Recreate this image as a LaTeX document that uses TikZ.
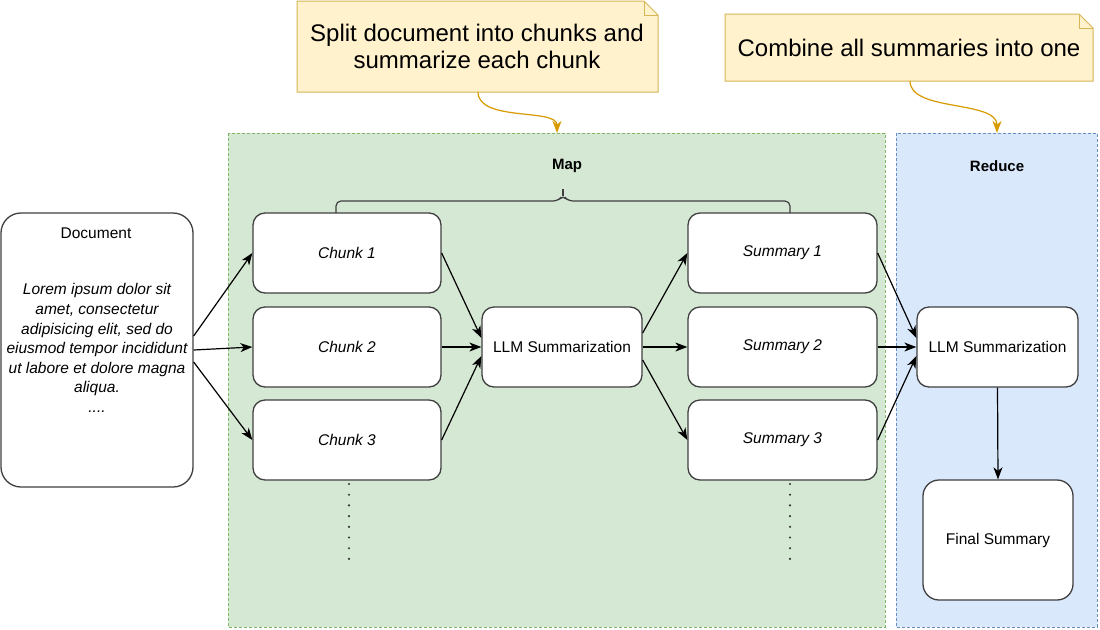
\documentclass[tikz,border=0pt]{standalone}
\usepackage{fontspec}
\setmainfont{Liberation Sans}
\usetikzlibrary{arrows.meta,calc}
\definecolor{notefill}{HTML}{FFF2CC}
\definecolor{notedraw}{HTML}{D6B656}
\definecolor{orangearrow}{HTML}{D79B00}
\definecolor{greenfill}{HTML}{D5E8D4}
\definecolor{greendraw}{HTML}{82B366}
\definecolor{bluefill}{HTML}{DAE8FC}
\definecolor{bluedraw}{HTML}{6C8EBF}
\definecolor{boxdraw}{HTML}{404040}
\tikzset{
  boxtext/.style={font=\fontsize{15.5}{19.6}\selectfont},
  procbox/.style={draw=boxdraw, line width=1.3pt, rounded corners=12pt, fill=white,
    align=center, inner sep=0pt, boxtext},
  flow/.style={draw=black, line width=1.2pt, -{Stealth[length=12pt,width=9pt,inset=3.5pt]}},
  notearrow/.style={draw=orangearrow, line width=1.2pt, -{Stealth[length=12pt,width=9pt,inset=3.5pt]}},
  notetext/.style={font=\fontsize{24}{27}\selectfont, align=center, inner sep=0pt},
  region/.style={line width=1pt, dash pattern=on 3pt off 2pt},
  dotline/.style={draw=black!80, line width=2.4pt, line cap=round, dash pattern=on 0pt off 10.7pt},
}
\begin{document}
\begin{tikzpicture}[x=1pt,y=-1pt]
\useasboundingbox (0,0) rectangle (1100,629);
\fill[white] (0,0) rectangle (1100,629);

% regions
\draw[region, fill=greenfill, draw=greendraw] (228,133) rectangle (885,627);
\draw[region, fill=bluefill, draw=bluedraw] (896,133) rectangle (1097,627);
\node[font=\fontsize{15}{18}\selectfont\bfseries] (maplbl) at (567,166) {Map};
\node[font=\fontsize{15}{18}\selectfont\bfseries] (redlbl) at (997,166) {Reduce};

% notes
\draw[fill=notefill, draw=notedraw, line width=1pt]
  (297,1) -- (644,1) -- (658,15) -- (658,92) -- (297,92) -- cycle;
\draw[draw=notedraw, line width=1pt] (644,1) -- (644,15) -- (658,15);
\node[notetext] (note1) at (477,46) {Split document into chunks and\\summarize each chunk};
\coordinate (n1out) at (478,92);
\coordinate (n1in) at (557,133);

\draw[fill=notefill, draw=notedraw, line width=1pt]
  (725,14) -- (1079,14) -- (1093,28) -- (1093,81) -- (725,81) -- cycle;
\draw[draw=notedraw, line width=1pt] (1079,14) -- (1079,28) -- (1093,28);
\node[notetext] (note2) at (909,48) {Combine all summaries into one};
\coordinate (n2out) at (910,81);
\coordinate (n2in) at (997,133);

\draw[notearrow] (n1out) .. controls (478,122) and (557,108) .. (n1in);
\draw[notearrow] (n2out) .. controls (910,112) and (997,100) .. (n2in);

% document
\node[procbox, rounded corners=20pt, minimum width=192pt, minimum height=274pt] (doc) at (97,350) {};
\node[boxtext] (doctitle) at (96,233) {Document};
\node[boxtext, align=center, font=\fontsize{15.5}{19.6}\selectfont\itshape] (lorem) at (97,348)
  {Lorem ipsum dolor sit\\amet, consectetur\\adipisicing elit, sed do\\eiusmod tempor incididunt\\ut labore et dolore magna\\aliqua.\\....};

% chunks
\node[procbox, minimum width=188pt, minimum height=80pt, font=\fontsize{15.5}{19.6}\selectfont\itshape] (c1) at (347,253) {Chunk 1};
\node[procbox, minimum width=188pt, minimum height=80pt, font=\fontsize{15.5}{19.6}\selectfont\itshape] (c2) at (347,347) {Chunk 2};
\node[procbox, minimum width=188pt, minimum height=80pt, font=\fontsize{15.5}{19.6}\selectfont\itshape] (c3) at (347,440) {Chunk 3};

% map LLM
\node[procbox, minimum width=160pt, minimum height=80pt] (llm1) at (562,347) {LLM Summarization};

% summaries
\node[procbox, minimum width=189pt, minimum height=80pt, font=\fontsize{15.5}{19.6}\selectfont\itshape] (s1) at (782.5,253) {Summary 1};
\node[procbox, minimum width=189pt, minimum height=80pt, font=\fontsize{15.5}{19.6}\selectfont\itshape] (s2) at (782.5,347) {Summary 2};
\node[procbox, minimum width=189pt, minimum height=80pt, font=\fontsize{15.5}{19.6}\selectfont\itshape] (s3) at (782.5,440) {Summary 3};

% reduce
\node[procbox, minimum width=161pt, minimum height=80pt] (llm2) at (997.5,347) {LLM Summarization};
\node[procbox, rounded corners=16pt, minimum width=150pt, minimum height=120pt] (final) at (998,540) {Final Summary};

% brace
\coordinate (brL) at (336,213);
\coordinate (brR) at (790,213);
\draw[draw=boxdraw, line width=1.2pt, rounded corners=5pt]
  (brL) -- (336,201) -- (558,201) -- (563,195) -- (568,201) -- (790,201) -- (brR);
\draw[draw=boxdraw, line width=1.2pt] (563,196) -- (563,189);

% dots
\coordinate (d1a) at (349,484); \coordinate (d1b) at (349,560);
\coordinate (d2a) at (790,484); \coordinate (d2b) at (790,560);
\draw[dotline] (d1a) -- (d1b);
\draw[dotline] (d2a) -- (d2b);

% flows
\draw[flow] ([yshift=14pt]doc.east) -- (c1.west);
\draw[flow] (doc.east) -- (c2.west);
\draw[flow] ([yshift=-12pt]doc.east) -- (c3.west);

\draw[flow] (c1.east) -- ([yshift=9pt]llm1.west);
\draw[flow] (c2.east) -- (llm1.west);
\draw[flow] (c3.east) -- ([yshift=-9pt]llm1.west);

\draw[flow] ([yshift=14pt]llm1.east) -- (s1.west);
\draw[flow] (llm1.east) -- (s2.west);
\draw[flow] ([yshift=-13pt]llm1.east) -- (s3.west);

\draw[flow] (s1.east) -- ([yshift=9pt]llm2.west);
\draw[flow] (s2.east) -- (llm2.west);
\draw[flow] (s3.east) -- ([yshift=-9pt]llm2.west);

\draw[flow] (llm2.south) -- (final.north);
\end{tikzpicture}
\end{document}
